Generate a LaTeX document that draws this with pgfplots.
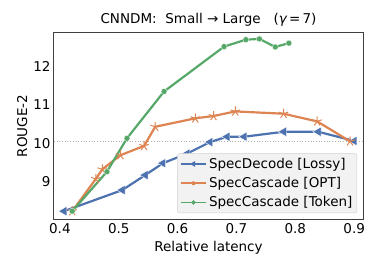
\documentclass[border=0pt]{standalone}
\usepackage{pgfplots}
\pgfplotsset{compat=1.18}
\usepackage{fontspec}
\setmainfont{DejaVu Sans}
\definecolor{sbblue}{HTML}{4C72B0}
\definecolor{sborange}{HTML}{DD8452}
\definecolor{sbgreen}{HTML}{55A868}
\begin{document}
\begin{tikzpicture}
\begin{axis}[
  scale only axis, width=309pt, height=188pt,
  xmin=0.39, xmax=0.915, ymin=8.0, ymax=12.9,
  xtick={0.4,0.5,0.6,0.7,0.8,0.9},
  xticklabels={0.4,0.5,0.6,0.7,0.8,0.9},
  ytick={9,10,11,12},
  yticklabels={9,10,11,12},
  tick style={draw=none},
  axis line style={black!75, line width=1pt},
  font=\fontsize{13.5}{16}\selectfont,
  ticklabel style={font=\fontsize{13.5}{16}\selectfont},
  xlabel={Relative latency}, ylabel={ROUGE-2},
  xlabel style={yshift=-1pt},
  ylabel style={yshift=-1pt},
  title={CNNDM:\ \ Small → Large\ \ \ ({\itshape γ}\,=\,7)},
  title style={yshift=-4pt},
  legend style={at={(0.981,0.037)}, anchor=south east, fill=black!5, draw=black!18, rounded corners=2pt, font=\fontsize{13.5}{16}\selectfont, row sep=3.5pt, inner sep=2.5pt},
  legend cell align=left,
  legend image code/.code={\draw[#1, mark repeat=2, mark phase=2] plot coordinates {(0cm,0cm) (0.45cm,0cm) (0.9cm,0cm)};},
]
\addplot[gray!60, dotted, line width=0.7pt, forget plot] coordinates {(0.39,10.05) (0.915,10.05)};
\addplot[sbblue, line width=2.2pt, mark=triangle*, mark size=5.5pt, mark options={rotate=90, fill=sbblue, draw=white, line width=0.4pt}, forget plot] coordinates {
(0.407,8.23) (0.506,8.78) (0.545,9.17) (0.575,9.48) (0.616,9.73) (0.655,10.03) (0.684,10.17) (0.713,10.17) (0.780,10.30) (0.839,10.30) (0.900,10.06)};
\addplot[sborange, line width=2.2pt, mark=star, mark size=5pt, mark options={fill=sborange, draw=sborange, line width=1pt}, forget plot] coordinates {
(0.421,8.23) (0.461,9.07) (0.472,9.32) (0.503,9.69) (0.543,9.93) (0.562,10.43) (0.630,10.65) (0.661,10.71) (0.698,10.83) (0.780,10.77) (0.837,10.57) (0.893,10.05)};
\addplot[sbgreen, line width=2.2pt, mark=*, mark size=3pt, mark options={fill=sbgreen, draw=white, line width=0.3pt}, forget plot] coordinates {
(0.421,8.23) (0.480,9.26) (0.514,10.13) (0.577,11.35) (0.679,12.52) (0.716,12.70) (0.739,12.72) (0.766,12.51) (0.789,12.61)};
\addlegendimage{sbblue, line width=1.5pt, mark=triangle*, mark size=2pt, mark options={rotate=90}}
\addlegendentry{SpecDecode [Lossy]}
\addlegendimage{sborange, line width=1.5pt, mark=star, mark size=2pt}
\addlegendentry{SpecCascade [OPT]}
\addlegendimage{sbgreen, line width=1.5pt, mark=*, mark size=1.3pt}
\addlegendentry{SpecCascade [Token]}
\end{axis}
\path (current axis.south west) ++(-54pt,-50pt) rectangle ++(378pt,270pt);
\end{tikzpicture}
\end{document}
